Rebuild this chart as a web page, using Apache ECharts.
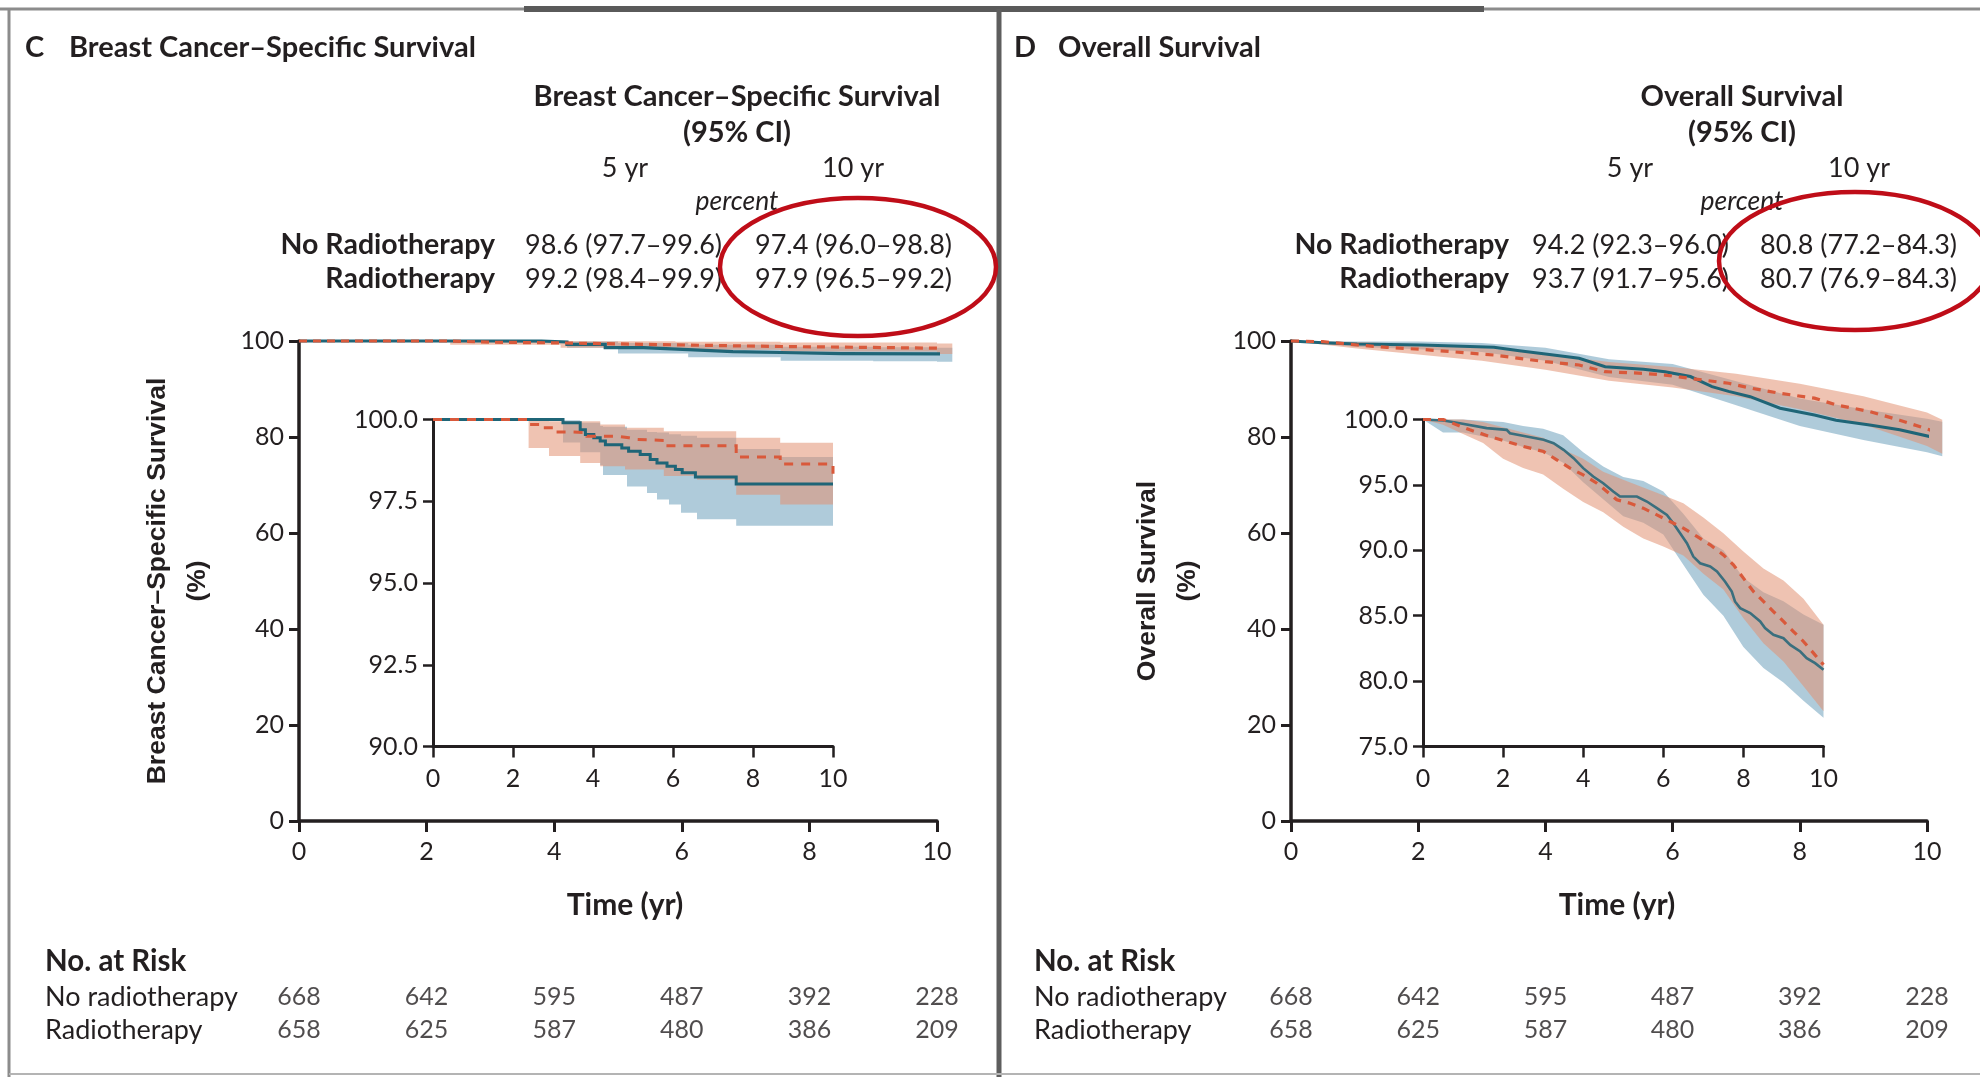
<!DOCTYPE html>
<html><head><meta charset="utf-8">
<script src="https://cdn.jsdelivr.net/npm/echarts@6/dist/echarts.min.js"></script>
<style>html,body{margin:0;padding:0;background:#fff}#c{width:1980px;height:1077px}</style>
</head><body><div id="c"></div>
<script>
// ---------------- DATA ----------------
const xTicks = [0, 2, 4, 6, 8, 10];
const riskTimes = [0, 2, 4, 6, 8, 10];
const riskNoRT = [668, 642, 595, 487, 392, 228];
const riskRT = [658, 625, 587, 480, 386, 209];
const groupNames = ['No radiotherapy', 'Radiotherapy'];

// stats tables
const statsC_noRT = ['98.6 (97.7–99.6)', '97.4 (96.0–98.8)'];
const statsC_RT = ['99.2 (98.4–99.9)', '97.9 (96.5–99.2)'];
const statsD_noRT = ['94.2 (92.3–96.0)', '80.8 (77.2–84.3)'];
const statsD_RT = ['93.7 (91.7–95.6)', '80.7 (76.9–84.3)'];

// Panel C main (step curves)
const mainC_noRT_t = [0, 3.8, 4.2, 4.8, 5.4, 6.1, 6.8, 7.55, 8.5, 10.24];
const mainC_noRT_v = [100, 99.8, 99.3, 98.6, 98.2, 97.8, 97.6, 97.35, 97.3, 96.9];
const mainC_RT_t = [0, 2.37, 3.0, 4.1, 5.0, 5.9, 6.8, 7.55, 8.7, 10.0, 10.24];
const mainC_RT_v = [100, 99.75, 99.6, 99.4, 99.2, 99.0, 98.85, 98.7, 98.5, 98.4, 98.0];
const mainC_noRT_band_t = [0, 3.2, 4.2, 5.0, 6.1, 7.55, 9.0, 10.0, 10.24];
const mainC_noRT_band_hi = [100, 100, 99.9, 99.6, 99.2, 98.8, 98.7, 98.6, 98.5];
const mainC_noRT_band_lo = [100, 99.6, 98.6, 97.4, 96.6, 95.9, 95.8, 95.7, 94.6];
const mainC_RT_band_t = [0, 2.37, 4.1, 5.9, 7.55, 10.0, 10.24];
const mainC_RT_band_hi = [100, 100, 99.95, 99.85, 99.7, 99.5, 99.4];
const mainC_RT_band_lo = [100, 99.2, 98.6, 98.2, 97.8, 97.3, 96.7];

// Panel C inset (step curves)
const insetC_noRT_t = [0, 3.25, 3.68, 3.81, 4.02, 4.18, 4.31, 4.72, 4.89, 5.18, 5.43, 5.6, 5.85, 6.06, 6.23, 6.56, 7.58, 10.0];
const insetC_noRT_v = [100, 99.9, 99.69, 99.54, 99.44, 99.34, 99.23, 99.13, 99.03, 98.93, 98.78, 98.67, 98.57, 98.47, 98.37, 98.24, 98.03, 98.03];
const insetC_RT_t = [0, 2.39, 2.7, 3.0, 3.4, 3.85, 4.6, 4.9, 5.1, 5.77, 7.58, 8.68, 10.0];
const insetC_RT_v = [100, 99.85, 99.75, 99.62, 99.6, 99.49, 99.44, 99.39, 99.36, 99.2, 98.85, 98.64, 98.34];
const insetC_noRT_band_t = [0, 3.25, 3.68, 4.18, 4.25, 4.85, 5.35, 5.6, 5.9, 6.2, 6.6, 7.58, 8.68, 10.0];
const insetC_noRT_band_hi = [100, 99.98, 99.9, 99.8, 99.78, 99.69, 99.62, 99.6, 99.55, 99.5, 99.44, 99.1, 98.85, 98.85];
const insetC_noRT_band_lo = [100, 99.3, 99.0, 98.6, 98.3, 97.95, 97.75, 97.55, 97.4, 97.15, 96.95, 96.75, 96.75, 96.75];
const insetC_RT_band_t = [0, 2.39, 2.9, 3.68, 4.18, 4.8, 5.77, 6.6, 7.58, 8.68, 10.0];
const insetC_RT_band_hi = [100, 99.97, 99.95, 99.95, 99.85, 99.75, 99.64, 99.64, 99.44, 99.29, 99.29];
const insetC_RT_band_lo = [100, 99.13, 98.88, 98.67, 98.57, 98.47, 98.27, 98.16, 97.7, 97.4, 97.4];

// Panel D main
const mainD_noRT_t = [0, 0.5, 1.04, 2.05, 3.19, 3.59, 4.0, 4.53, 4.94, 5.54, 5.88, 6.28, 6.62, 6.88, 7.22, 7.69, 8.23, 8.57, 9.1, 9.57, 10.04, 10.24];
const mainD_noRT_v = [100, 99.65, 99.37, 99.17, 98.68, 97.99, 97.29, 96.39, 94.65, 94.1, 93.6, 92.6, 90.5, 89.5, 88.4, 86.0, 84.6, 83.5, 82.5, 81.5, 80.1, 79.7];
const mainD_RT_t = [0, 0.5, 1.04, 1.51, 2.05, 2.52, 3.19, 3.59, 4.0, 4.53, 4.94, 5.54, 5.88, 6.28, 6.88, 7.22, 7.69, 8.23, 8.57, 9.1, 9.57, 10.04, 10.24];
const mainD_RT_v = [100, 99.86, 99.17, 98.68, 98.26, 97.78, 97.08, 96.39, 95.69, 95.0, 93.6, 93.26, 92.9, 92.2, 91.2, 90.2, 89.1, 88.1, 86.7, 85.3, 83.5, 81.5, 80.1];
const mainD_band_t = [0, 1, 2, 3, 4, 5, 6, 7, 8, 9, 10, 10.24];
const mainD_noRT_band_lo = [100, 98.8, 98.3, 97.7, 95.9, 92.5, 90.9, 86.6, 82.3, 79.4, 76.8, 76.0];
const mainD_noRT_band_hi = [100, 99.9, 99.9, 99.6, 98.6, 96.2, 95.2, 91.6, 88.0, 85.8, 83.8, 83.2];
const mainD_RT_band_lo = [100, 98.5, 97.2, 95.9, 94.0, 91.7, 90.3, 88.5, 85.8, 82.6, 78.1, 76.5];
const mainD_RT_band_hi = [100, 99.8, 99.3, 98.6, 97.3, 95.6, 94.6, 93.2, 91.1, 88.5, 85.1, 83.6];

// Panel D inset
const insetD_noRT_t = [0, 0.51, 0.92, 1.59, 2.09, 2.17, 2.59, 3.01, 3.26, 3.51, 3.76, 4.0, 4.25, 4.5, 4.75, 4.92, 5.34, 5.59, 5.84, 6.09, 6.25, 6.42, 6.59, 6.75, 6.92, 7.17, 7.34, 7.54, 7.71, 7.79, 7.92, 8.17, 8.42, 8.54, 8.75, 9.0, 9.17, 9.42, 9.58, 9.79, 10.0];
const insetD_noRT_v = [100, 99.92, 99.72, 99.34, 99.21, 98.95, 98.7, 98.45, 98.19, 97.68, 97.04, 96.28, 95.64, 95.13, 94.5, 94.11, 94.11, 93.73, 93.22, 92.71, 92.07, 91.31, 90.54, 89.52, 89.01, 88.76, 88.38, 87.61, 86.85, 86.09, 85.58, 85.2, 84.56, 84.05, 83.54, 83.28, 82.77, 82.26, 81.75, 81.37, 80.86];
const insetD_RT_t = [0, 0.51, 0.84, 1.17, 1.67, 2.09, 2.51, 3.01, 3.34, 3.67, 4.0, 4.34, 4.59, 4.84, 5.17, 5.5, 5.84, 6.17, 6.5, 6.84, 7.17, 7.5, 7.75, 8.0, 8.25, 8.5, 8.75, 9.0, 9.25, 9.5, 9.75, 10.0];
const insetD_RT_v = [100, 100, 99.59, 99.21, 98.7, 98.32, 97.94, 97.55, 96.92, 96.28, 95.77, 95.13, 94.5, 93.86, 93.6, 93.22, 92.71, 92.2, 91.69, 91.06, 90.42, 89.65, 88.89, 87.87, 86.85, 86.09, 85.32, 84.56, 83.79, 83.03, 82.14, 81.25];
const insetD_band_t = [0, 0.5, 1.0, 1.5, 2.0, 2.5, 3.0, 3.5, 4.0, 4.5, 5.0, 5.5, 6.0, 6.5, 7.0, 7.5, 8.0, 8.5, 9.0, 9.5, 10.0];
const insetD_noRT_band_lo = [100, 99.0, 99.0, 98.7, 98.4, 97.9, 97.5, 96.7, 95.2, 93.9, 92.6, 92.1, 91.2, 88.9, 86.6, 85.0, 82.6, 81.0, 79.9, 78.5, 77.2];
const insetD_noRT_band_hi = [100, 100, 100, 99.9, 99.8, 99.5, 99.3, 98.8, 97.5, 96.4, 95.6, 95.3, 94.5, 92.8, 90.9, 90.0, 87.9, 86.8, 86.1, 85.1, 84.3];
const insetD_RT_band_lo = [100, 99.6, 98.9, 98.2, 97.0, 96.3, 95.8, 94.7, 93.7, 92.9, 91.8, 90.9, 90.3, 89.6, 88.2, 87.0, 84.8, 82.9, 81.5, 79.6, 77.7];
const insetD_RT_band_hi = [100, 100, 100, 99.8, 99.4, 99.0, 98.6, 97.7, 97.0, 96.0, 95.4, 94.8, 94.2, 93.6, 92.5, 91.3, 89.9, 88.6, 87.7, 86.3, 84.3];

// ---------------- STYLE ----------------
const FONT = 'Lato, "Noto Sans", sans-serif';
const ARIAL = '"Liberation Sans", Arial, sans-serif';
const INK = '#231f20';
const BLUE_LINE = '#1f6577';
const RED_LINE = '#d9593b';
const BLUE_BAND = 'rgba(110,160,188,0.55)';
const RED_BAND = 'rgba(226,146,114,0.55)';

function lineS(ai, t, v, color, dashed, step, width, dash) {
  return {
    type: 'line', xAxisIndex: ai, yAxisIndex: ai,
    data: t.map((x, i) => [x, v[i]]),
    step: step ? 'end' : false, showSymbol: false, symbol: 'none',
    clip: false, silent: true, animation: false, z: dashed ? 6 : 5,
    lineStyle: { color: color, width: width, type: dashed ? dash : 'solid', cap: 'butt', join: 'miter' }
  };
}
function bandS(ai, t, lo, hi, color, step) {
  return {
    type: 'custom', xAxisIndex: ai, yAxisIndex: ai, silent: true, animation: false, z: 3,
    data: t.map((x, i) => [x, lo[i], hi[i]]),
    encode: { x: 0, y: [1, 2] },
    renderItem: function (params, api) {
      if (params.dataIndex !== 0) return null;
      const pts = [];
      const n = t.length;
      for (let i = 0; i < n; i++) {
        if (step && i > 0) pts.push(api.coord([t[i], hi[i - 1]]));
        pts.push(api.coord([t[i], hi[i]]));
      }
      for (let i = n - 1; i >= 0; i--) {
        pts.push(api.coord([t[i], lo[i]]));
        if (step && i > 0) pts.push(api.coord([t[i], lo[i - 1]]));
      }
      return { type: 'polygon', shape: { points: pts }, style: { fill: color } };
    }
  };
}
function xAx(gi, lw, margin) {
  return {
    gridIndex: gi, type: 'value', min: 0, max: 10, interval: 2,
    axisLine: { show: true, onZero: false, lineStyle: { color: INK, width: lw } },
    axisTick: { show: true, length: 11, lineStyle: { color: INK, width: lw - 0.5 } },
    axisLabel: { margin: margin, fontFamily: FONT, fontSize: 25, color: INK },
    splitLine: { show: false }
  };
}
function yAx(gi, min, max, interval, lw, dec) {
  return {
    gridIndex: gi, type: 'value', min: min, max: max, interval: interval,
    axisLine: { show: true, onZero: false, lineStyle: { color: INK, width: lw } },
    axisTick: { show: true, length: 10, lineStyle: { color: INK, width: lw - 0.5 } },
    axisLabel: { margin: 15, fontFamily: FONT, fontSize: 25, color: INK,
      formatter: v => dec ? v.toFixed(1) : String(v) },
    splitLine: { show: false }
  };
}
function riskAxX(gi) { return { gridIndex: gi, type: 'value', min: 0, max: 10, show: false }; }
function riskAxY(gi) { return { gridIndex: gi, type: 'value', min: 0, max: 2, inverse: true, show: false }; }
function riskS(ai, counts, row) {
  return {
    type: 'scatter', xAxisIndex: ai, yAxisIndex: ai, silent: true, animation: false,
    symbol: 'circle', symbolSize: 2, itemStyle: { color: 'rgba(0,0,0,0)' }, clip: false,
    data: riskTimes.map((t, i) => ({ value: [t, row + 0.5], count: counts[i] })),
    label: { show: true, position: 'inside', formatter: p => String(p.data.count),
      fontFamily: FONT, fontSize: 25, color: INK }
  };
}

function txt(x, y, s, o) {
  o = o || {};
  return {
    type: 'text', x: x, y: y, rotation: o.rot || 0, z: 50,
    style: {
      text: s, fill: INK, fontFamily: o.family || FONT, fontSize: o.size || 26,
      fontWeight: o.bold ? 'bold' : 'normal', fontStyle: o.italic ? 'italic' : 'normal',
      textAlign: o.align || 'left', textVerticalAlign: 'middle',
      align: o.align || 'left', verticalAlign: 'middle'
    }
  };
}
function line(x1, y1, x2, y2, color, w) {
  return { type: 'line', z: 60, shape: { x1: x1, y1: y1, x2: x2, y2: y2 }, style: { stroke: color, lineWidth: w } };
}

function panelGraphics(dx, title, header, stNo, stRt, ylab, ell) {
  const g = [];
  g.push(txt(25 + dx, 48, title[0], { bold: true, size: 29 }));
  g.push(txt(69 + dx, 48, title[1], { bold: true, size: 29 }));
  g.push(txt(header.cx, 97, header.text, { bold: true, size: 29, align: 'center' }));
  g.push(txt(header.cx, 133, '(95% CI)', { bold: true, size: 29, align: 'center' }));
  g.push(txt(header.c5, 168, '5 yr', { size: 27, align: 'center' }));
  g.push(txt(header.c10, 168, '10 yr', { size: 27, align: 'center' }));
  g.push(txt(header.cx, 201, 'percent', { size: 26.5, italic: true, align: 'center' }));
  g.push(txt(header.lab, 245, 'No Radiotherapy', { bold: true, size: 28.5, align: 'right' }));
  g.push(txt(header.lab, 279, 'Radiotherapy', { bold: true, size: 28.5, align: 'right' }));
  g.push(txt(header.v1, 245, stNo[0], { size: 27 }));
  g.push(txt(header.v2, 245, stNo[1], { size: 27 }));
  g.push(txt(header.v1, 279, stRt[0], { size: 27 }));
  g.push(txt(header.v2, 279, stRt[1], { size: 27 }));
  g.push({ type: 'ellipse', z: 70, shape: { cx: ell[0], cy: ell[1], rx: ell[2], ry: ell[3] },
    style: { fill: 'none', stroke: '#bf0d18', lineWidth: 4.5 } });
  g.push(txt(ylab.x, 581, ylab.text, { family: ARIAL, bold: true, size: 26.5, align: 'center', rot: Math.PI / 2 }));
  g.push(txt(ylab.x + 40, 581, '(%)', { family: ARIAL, bold: true, size: 26.5, align: 'center', rot: Math.PI / 2 }));
  g.push(txt(header.time, 905, 'Time (yr)', { bold: true, size: 30, align: 'center' }));
  g.push(txt(45 + dx, 961, 'No. at Risk', { bold: true, size: 29.5 }));
  g.push(txt(45 + dx, 997, 'No radiotherapy', { size: 27 }));
  g.push(txt(45 + dx, 1030, 'Radiotherapy', { size: 27 }));
  return g;
}

const graphics = []
  .concat(panelGraphics(0, ['C', 'Breast Cancer–Specific Survival'],
    { cx: 737, text: 'Breast Cancer–Specific Survival', c5: 625, c10: 853, lab: 495, v1: 525, v2: 755, time: 625 },
    statsC_noRT, statsC_RT, { x: 158, text: 'Breast Cancer–Specific Survival' }, [858, 267, 138, 69]))
  .concat(panelGraphics(989, ['D', 'Overall Survival'],
    { cx: 1742, text: 'Overall Survival', c5: 1630, c10: 1859, lab: 1509, v1: 1532, v2: 1760, time: 1617 },
    statsD_noRT, statsD_RT, { x: 1148, text: 'Overall Survival' }, [1855, 261, 136, 69]))
  .concat([
    line(0, 9, 1980, 9, '#8c8c8c', 3),
    line(524, 9, 1484, 9, '#5a5a5a', 6),
    line(9, 9, 9, 1077, '#8c8c8c', 3),
    line(999, 9, 999, 1077, '#5e5e5e', 5),
    line(9, 1074, 1980, 1074, '#b4b4b4', 2)
  ]);

const chart = echarts.init(document.getElementById('c'), null, { renderer: 'canvas' });
chart.setOption({
  animation: false,
  backgroundColor: '#ffffff',
  grid: [
    { left: 299, top: 341, width: 638, height: 480 },
    { left: 433, top: 419.5, width: 400, height: 327 },
    { left: 1291, top: 341, width: 636, height: 480 },
    { left: 1423, top: 419.5, width: 400.5, height: 327 },
    { left: 299, top: 980, width: 638, height: 66 },
    { left: 1291, top: 980, width: 636, height: 66 }
  ],
  xAxis: [xAx(0, 3.5, 18), xAx(1, 3, 20), xAx(2, 3.5, 18), xAx(3, 3, 20), riskAxX(4), riskAxX(5)],
  yAxis: [yAx(0, 0, 100, 20, 3.5, false), yAx(1, 90, 100, 2.5, 3, true),
          yAx(2, 0, 100, 20, 3.5, false), yAx(3, 75, 100, 5, 3, true), riskAxY(4), riskAxY(5)],
  series: [
    bandS(0, mainC_noRT_band_t, mainC_noRT_band_lo, mainC_noRT_band_hi, BLUE_BAND, true),
    bandS(0, mainC_RT_band_t, mainC_RT_band_lo, mainC_RT_band_hi, RED_BAND, true),
    lineS(0, mainC_noRT_t, mainC_noRT_v, BLUE_LINE, false, true, 3.2),
    lineS(0, mainC_RT_t, mainC_RT_v, RED_LINE, true, true, 3.2, [8, 6]),

    bandS(1, insetC_noRT_band_t, insetC_noRT_band_lo, insetC_noRT_band_hi, BLUE_BAND, true),
    bandS(1, insetC_RT_band_t, insetC_RT_band_lo, insetC_RT_band_hi, RED_BAND, true),
    lineS(1, insetC_noRT_t, insetC_noRT_v, BLUE_LINE, false, true, 3),
    lineS(1, insetC_RT_t, insetC_RT_v, RED_LINE, true, true, 3, [9, 8]),

    bandS(2, mainD_band_t, mainD_noRT_band_lo, mainD_noRT_band_hi, BLUE_BAND, false),
    bandS(2, mainD_band_t, mainD_RT_band_lo, mainD_RT_band_hi, RED_BAND, false),
    lineS(2, mainD_noRT_t, mainD_noRT_v, BLUE_LINE, false, false, 3),
    lineS(2, mainD_RT_t, mainD_RT_v, RED_LINE, true, false, 3.2, [8, 7]),

    bandS(3, insetD_band_t, insetD_noRT_band_lo, insetD_noRT_band_hi, BLUE_BAND, false),
    bandS(3, insetD_band_t, insetD_RT_band_lo, insetD_RT_band_hi, RED_BAND, false),
    lineS(3, insetD_noRT_t, insetD_noRT_v, '#3a6f7e', false, false, 2.6),
    lineS(3, insetD_RT_t, insetD_RT_v, RED_LINE, true, false, 3.2, [8, 7]),

    riskS(4, riskNoRT, 0), riskS(4, riskRT, 1),
    riskS(5, riskNoRT, 0), riskS(5, riskRT, 1)
  ],
  graphic: graphics
});
</script></body></html>
